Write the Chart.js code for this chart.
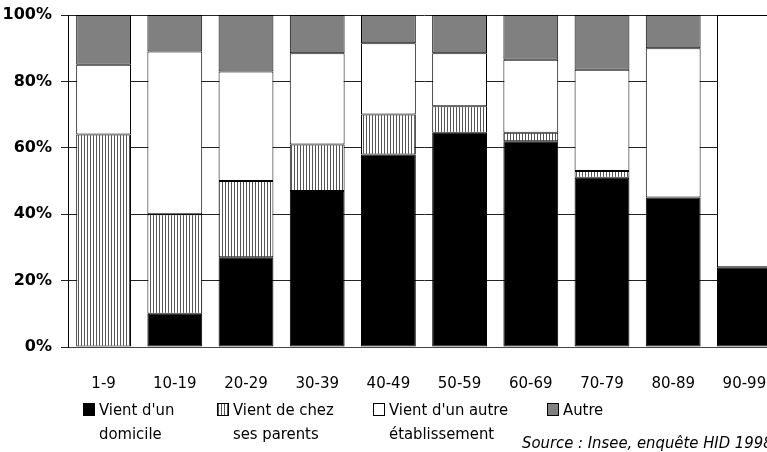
<!DOCTYPE html>
<html>
<head>
<meta charset="utf-8">
<script src="https://cdn.jsdelivr.net/npm/chart.js@4"></script>
<style>
  html, body { margin: 0; padding: 0; background: #fff; overflow: hidden; width: 767px; height: 452px; }
  #wrap { position: relative; width: 767px; height: 452px; overflow: hidden; font-family: 'DejaVu Sans', sans-serif; font-stretch: condensed; }
  #c { position: absolute; left: 0; top: 0; }
  .leg { position: absolute; top: 398px; font-size: 16.5px; line-height: 24px; color: #000; white-space: nowrap; }
  .box { position: absolute; top: 5px; left: -16px; width: 10px; height: 11px; border: 1px solid #000; }
  .src { position: absolute; left: 522px; top: 431px; font-size: 16.5px; line-height: 24px; font-style: italic; white-space: nowrap; }
</style>
</head>
<body>
<div id="wrap">
  <canvas id="c" width="790" height="400"></canvas>
  <div class="leg" style="left:99px"><span class="box" style="background:#000"></span>Vient d'un<br>domicile</div>
  <div class="leg" style="left:233px"><span class="box" style="background:repeating-linear-gradient(90deg,#555 0 1px,#fff 1px 3px)"></span>Vient de chez<br>ses parents</div>
  <div class="leg" style="left:389px"><span class="box" style="background:#fff"></span>Vient d'un autre<br>établissement</div>
  <div class="leg" style="left:563px"><span class="box" style="background:#808080"></span>Autre</div>
  <div class="src">Source : Insee, enquête HID 1998</div>
</div>
<script>
const categories = ['1-9', '10-19', '20-29', '30-39', '40-49', '50-59', '60-69', '70-79', '80-89', '90-99'];
const domicile   = [0, 10, 27, 47, 58, 64.5, 62, 51, 45, 24];
const parents    = [64, 30, 23, 14, 12, 8, 2.5, 2, 0, 0];
const etab       = [21, 49, 33, 27.5, 21.5, 16, 22, 30.5, 45, 76];
const autre      = [15, 11, 17, 11.5, 8.5, 11.5, 13.5, 16.5, 10, 0];
const yTicks     = [0, 20, 40, 60, 80, 100];

const FONT = "'DejaVu Sans', sans-serif";

function hatch() {
    const p = document.createElement('canvas');
    p.width = 3; p.height = 4;
    const g = p.getContext('2d');
    g.fillStyle = '#fff'; g.fillRect(0, 0, 3, 4);
    g.fillStyle = '#555'; g.fillRect(0, 0, 1, 4);
    return g.createPattern(p, 'repeat');
}

const ds = (label, data, bg) => ({ label, data, backgroundColor: bg, borderColor: '#000', borderWidth: 1, borderSkipped: false, barPercentage: 0.77, categoryPercentage: 1 });

new Chart(document.getElementById('c'), {
    type: 'bar',
    data: { labels: categories, datasets: [
        ds("Vient d'un domicile", domicile, '#000'),
        ds('Vient de chez ses parents', parents, hatch()),
        ds("Vient d'un autre établissement", etab, '#fff'),
        ds('Autre', autre, '#808080')
    ] },
    options: {
        responsive: false, animation: false,
        layout: { padding: { top: 15, right: 10, bottom: 0, left: 0 } },
        plugins: { legend: { display: false }, tooltip: { enabled: false } },
        scales: {
            x: { stacked: true, grid: { display: false }, border: { color: '#444', width: 1 },
                 afterFit: s => { s.height = 53; },
                 ticks: { padding: 20, maxRotation: 0, color: '#000', font: { family: FONT, size: 15 } } },
            y: { stacked: true, min: 0, max: 100,
                 afterBuildTicks: s => { s.ticks = yTicks.map(v => ({ value: v })); },
                 afterFit: s => { s.width = 68; s.paddingTop = 0; s.paddingBottom = 0; },
                 grid: { color: '#222', tickLength: 7 }, border: { color: '#000', width: 1 },
                 ticks: { padding: 9, color: '#000', callback: v => v + '%', font: { family: FONT, size: 16, weight: 'bold' } } }
        }
    }
});
</script>
</body>
</html>
